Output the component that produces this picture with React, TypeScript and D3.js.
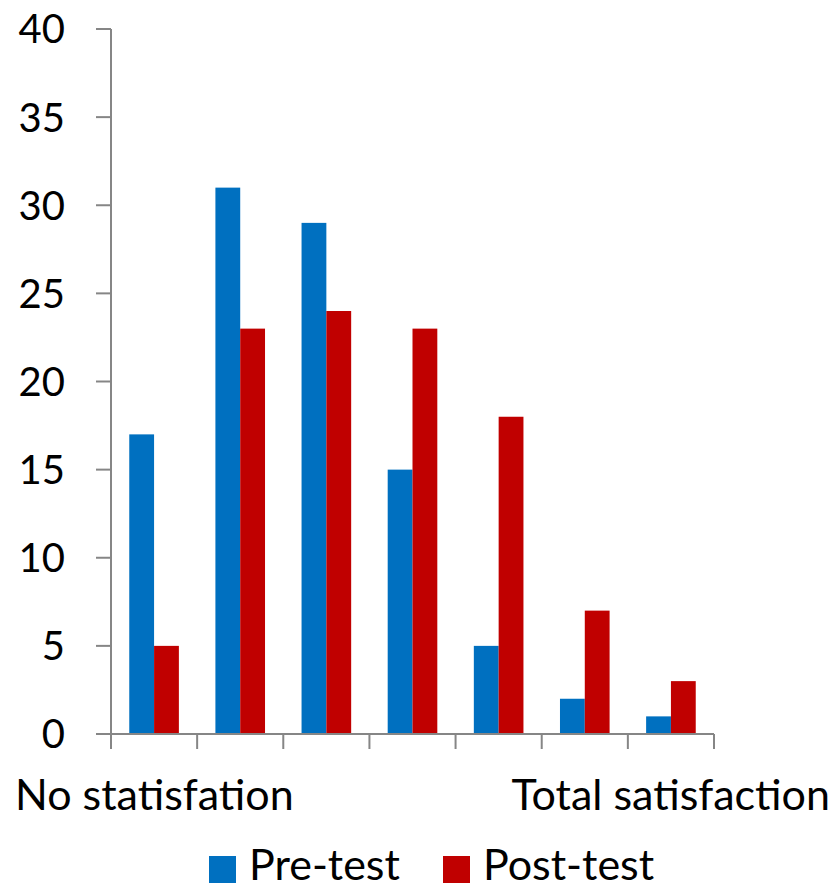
import { useEffect, useRef } from "react";
import * as d3 from "d3";

const categories = ["1", "2", "3", "4", "5", "6", "7"];
const preTest = [17, 31, 29, 15, 5, 2, 1];
const postTest = [5, 23, 24, 23, 18, 7, 3];
const seriesNames = ["Pre-test", "Post-test"];
const seriesColors = ["#0070C0", "#C00000"];
const yTicks = [0, 5, 10, 15, 20, 25, 30, 35, 40];
const leftLabel = "No statisfation";
const rightLabel = "Total satisfaction";

const W = 837;
const H = 893;
const FONT = "Lato, 'Open Sans', sans-serif";

export default function App() {
  const svgRef = useRef<SVGSVGElement>(null);

  useEffect(() => {
    if (!svgRef.current) return;
    const svg = d3.select(svgRef.current);
    svg.selectAll("*").remove();

    const margin = { left: 111, right: 123, top: 29, bottom: 159 };
    const x0 = margin.left;
    const x1 = W - margin.right;
    const yBase = H - margin.bottom;

    const x = d3.scaleBand<string>().domain(categories).range([x0, x1]).paddingInner(0.424).paddingOuter(0.212);
    const xs = d3.scaleBand<string>().domain(seriesNames).range([0, x.bandwidth()]);
    const y = d3.scaleLinear().domain([0, 40]).range([yBase, margin.top]);

    const rows = categories.map((c, i) => ({ c, vals: [preTest[i], postTest[i]] }));

    // bars
    const g = svg.append("g");
    rows.forEach((r) => {
      r.vals.forEach((v, j) => {
        g.append("rect")
          .attr("x", (x(r.c) ?? 0) + (xs(seriesNames[j]) ?? 0))
          .attr("y", y(v))
          .attr("width", xs.bandwidth())
          .attr("height", yBase - y(v))
          .attr("fill", seriesColors[j]);
      });
    });

    const axisColor = "#868686";

    // y axis
    svg.append("line")
      .attr("x1", x0).attr("x2", x0)
      .attr("y1", y(40)).attr("y2", yBase)
      .attr("stroke", axisColor).attr("stroke-width", 2);
    yTicks.forEach((t) => {
      svg.append("line")
        .attr("x1", x0 - 15).attr("x2", x0)
        .attr("y1", y(t)).attr("y2", y(t))
        .attr("stroke", axisColor).attr("stroke-width", 2);
      svg.append("text")
        .attr("x", 65).attr("y", y(t))
        .attr("dy", "0.36em")
        .attr("text-anchor", "end")
        .attr("font-family", FONT)
        .attr("font-size", 40)
        .attr("fill", "#000")
        .text(String(t));
    });

    // x axis
    svg.append("line")
      .attr("x1", x0 - 15).attr("x2", x1)
      .attr("y1", yBase).attr("y2", yBase)
      .attr("stroke", axisColor).attr("stroke-width", 2);
    const step = x.step();
    d3.range(categories.length + 1).forEach((i) => {
      const xx = x0 + i * step;
      svg.append("line")
        .attr("x1", xx).attr("x2", xx)
        .attr("y1", yBase).attr("y2", yBase + 15)
        .attr("stroke", axisColor).attr("stroke-width", 2);
    });

    svg.append("text")
      .attr("x", 15).attr("y", 810)
      .attr("font-family", FONT).attr("font-size", 43)
      .text(leftLabel);
    svg.append("text")
      .attr("x", 830).attr("y", 810)
      .attr("text-anchor", "end")
      .attr("font-family", FONT).attr("font-size", 43)
      .text(rightLabel);

    // legend
    const legendX = [209, 443];
    seriesNames.forEach((n, j) => {
      svg.append("rect")
        .attr("x", legendX[j]).attr("y", 856)
        .attr("width", 27).attr("height", 27)
        .attr("fill", seriesColors[j]);
      svg.append("text")
        .attr("x", legendX[j] + 40).attr("y", 880)
        .attr("font-family", FONT).attr("font-size", 43)
        .text(n);
    });
  }, []);

  return (
    <svg
      ref={svgRef}
      width={W}
      height={H}
      style={{ position: "absolute", left: 0, top: 0, background: "#fff" }}
    />
  );
}
